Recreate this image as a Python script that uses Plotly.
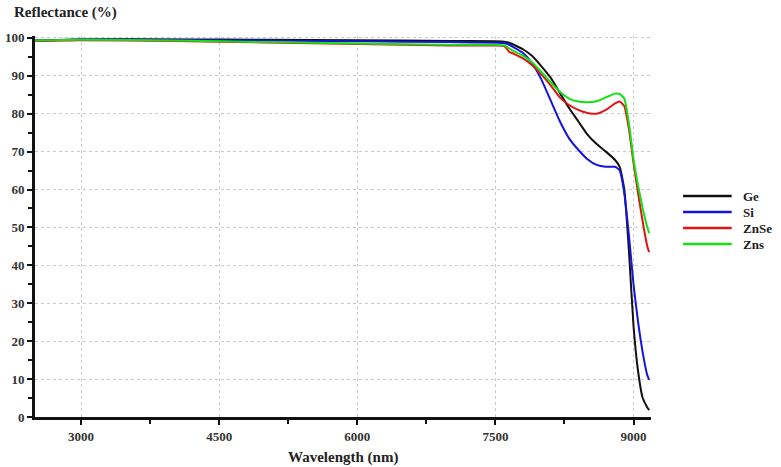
import plotly.graph_objects as go

wavelength = [2500, 3000, 4000, 5000, 6000, 7000, 7500, 7600, 7650, 7700, 7800, 7900, 8000,
              8100, 8200, 8300, 8400, 8500, 8600, 8700, 8800, 8850, 8900, 8950, 9000,
              9050, 9100, 9150, 9170]

ge = [99.3, 99.6, 99.6, 99.5, 99.4, 99.2, 99.1, 99.0, 98.7, 98.2, 97.0, 95.2, 92.5,
      89.5, 85.5, 81.5, 78.0, 74.5, 72.0, 70.0, 67.8, 66.0, 60.0, 44.0, 24.0,
      12.0, 5.0, 2.5, 1.8]
si = [99.3, 99.6, 99.5, 99.3, 99.1, 98.9, 98.7, 98.6, 98.2, 97.5, 96.0, 93.3, 89.0,
      83.5, 78.0, 73.5, 70.5, 68.0, 66.5, 66.0, 66.0, 65.0, 59.0, 48.0, 35.0,
      25.0, 17.0, 11.0, 9.8]
znse = [99.2, 99.4, 99.2, 98.8, 98.4, 98.0, 98.0, 97.8, 96.3, 95.8, 94.6, 92.8, 90.3,
        87.5, 84.3, 82.3, 81.0, 80.2, 80.0, 81.0, 82.7, 83.2, 82.0, 76.0, 67.0,
        59.0, 51.5, 45.0, 43.5]
zns = [99.3, 99.5, 99.3, 98.9, 98.5, 98.2, 98.2, 98.0, 97.2, 96.5, 95.3, 93.5, 91.0,
       88.3, 85.8, 84.0, 83.2, 83.0, 83.3, 84.3, 85.3, 85.2, 84.0, 77.5, 68.0,
       61.0, 55.0, 50.0, 48.5]

names = ["Ge", "Si", "ZnSe", "Zns"]
colors = ["#111111", "#1414dc", "#e01414", "#14e014"]
values = [ge, si, znse, zns]

x_ticks = [3000, 4500, 6000, 7500, 9000]
y_ticks = [0, 10, 20, 30, 40, 50, 60, 70, 80, 90, 100]

font_family = "Liberation Serif, Times New Roman, serif"

fig = go.Figure()
for name, vals, color in zip(names, values, colors):
    fig.add_trace(go.Scatter(x=wavelength, y=vals, name=name, mode="lines", showlegend=False,
                             line=dict(color=color, width=2, shape="spline", smoothing=0.5)))

# manual compact legend (to the right of the plot area)
shapes = []
annotations = []
for i, (name, color) in enumerate(zip(names, colors)):
    yy = 0.580 - i * 0.042
    shapes.append(dict(type="line", xref="paper", yref="paper", x0=1.052, x1=1.131,
                       y0=yy, y1=yy, line=dict(color=color, width=2.5)))
    annotations.append(dict(text=f"<b>{name}</b>", xref="paper", yref="paper", x=1.147, y=yy,
                            xanchor="left", yanchor="middle", showarrow=False, borderpad=0,
                            font=dict(family=font_family, size=13, color="#222222")))

annotations.append(dict(text="<b>Reflectance (%)</b>", xref="paper", yref="paper", x=-0.038,
                        y=1.0, yshift=24, xanchor="left", yanchor="middle", showarrow=False,
                        font=dict(family=font_family, size=15, color="#222222")))
annotations.append(dict(text="<b>Wavelength (nm)</b>", xref="paper", yref="paper", x=0.5,
                        y=0.0, yshift=-40, xanchor="center", yanchor="middle", showarrow=False,
                        font=dict(family=font_family, size=15, color="#222222")))

fig.update_layout(
    width=781, height=467,
    margin=dict(l=35, r=130, t=36, b=50, autoexpand=False),
    plot_bgcolor="white", paper_bgcolor="white",
    font=dict(family=font_family, size=13, color="#333333"),
    showlegend=False,
    shapes=shapes,
    annotations=annotations,
)
fig.update_xaxes(
    range=[2500, 9190], tickvals=x_ticks, ticktext=[f"<b>{v}</b>" for v in x_ticks],
    automargin=False,
    showline=True, linecolor="#111111", linewidth=3, ticks="outside", ticklen=5,
    tickwidth=2, tickcolor="#111111",
    minor=dict(dtick=750, tick0=3000, ticks="outside", ticklen=4, tickwidth=2,
               tickcolor="#111111", showgrid=False),
    showgrid=True, gridcolor="#c8c8c8", griddash="dot", gridwidth=1, zeroline=False,
    tickfont=dict(family=font_family, size=13, color="#333333"),
)
fig.update_yaxes(
    range=[0, 100.5], tickvals=y_ticks, ticktext=[f"<b>{v}</b>" for v in y_ticks],
    automargin=False,
    showline=True, linecolor="#111111", linewidth=3, ticks="outside", ticklen=5,
    tickwidth=2, tickcolor="#111111",
    minor=dict(dtick=5, tick0=0, ticks="outside", ticklen=4, tickwidth=2,
               tickcolor="#111111", showgrid=False),
    showgrid=True, gridcolor="#c8c8c8", griddash="dot", gridwidth=1, zeroline=False,
    tickfont=dict(family=font_family, size=13, color="#333333"),
)

fig.write_html("out.html")
